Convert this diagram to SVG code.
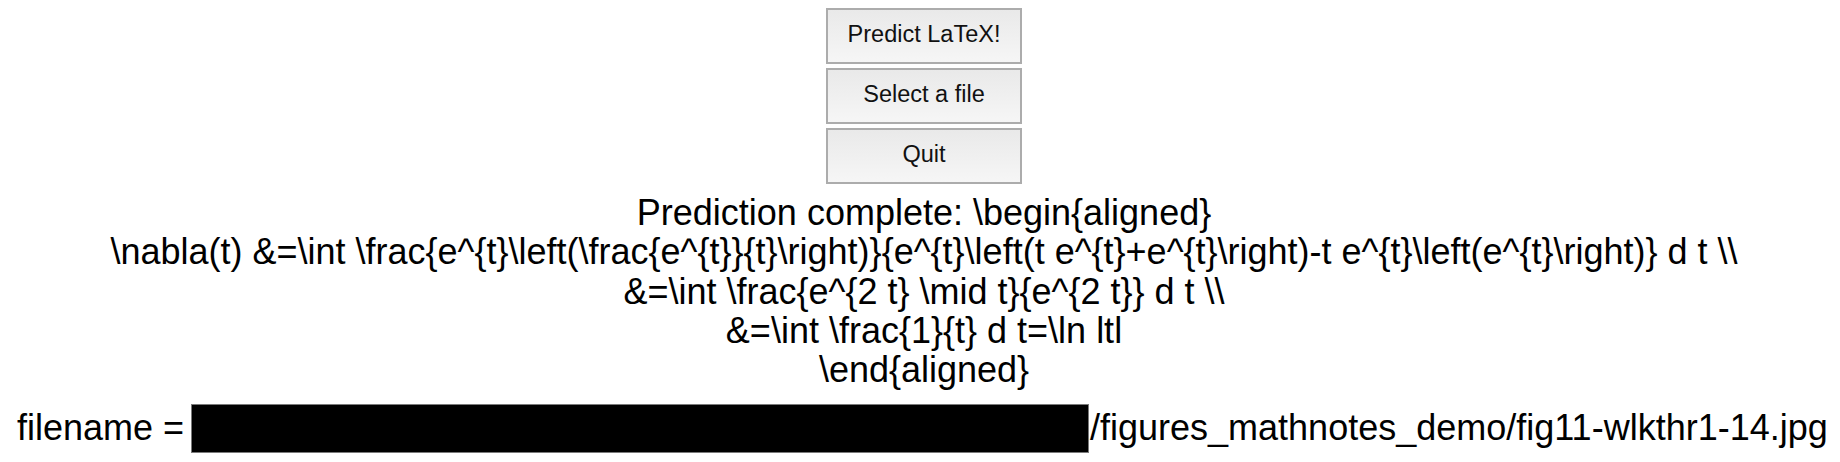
<svg xmlns="http://www.w3.org/2000/svg" width="1840" height="462" viewBox="0 0 1840 462">
  <style>
    .btn { fill: url(#btnGrad); stroke: #acacac; stroke-width: 2; }
    .btnText { font-family: "Liberation Sans", Arial, Helvetica, sans-serif; font-size: 23.5px; fill: #111111; text-anchor: middle; }
    .big { font-family: "Liberation Sans", Arial, Helvetica, sans-serif; font-size: 36px; fill: #000000; }
    .mid { text-anchor: middle; }
  </style>
  <defs>
    <linearGradient id="btnGrad" x1="0" y1="0" x2="0" y2="1">
      <stop offset="0" stop-color="#e9e9e9"/>
      <stop offset="1" stop-color="#f6f6f6"/>
    </linearGradient>
  </defs>
  <rect x="0" y="0" width="1840" height="462" fill="#ffffff"/>

  <g id="btn-predict">
    <rect class="btn" x="827" y="9" width="194" height="54"/>
    <text class="btnText" x="924" y="42">Predict LaTeX!</text>
  </g>
  <g id="btn-select">
    <rect class="btn" x="827" y="69" width="194" height="54"/>
    <text class="btnText" x="924" y="102">Select a file</text>
  </g>
  <g id="btn-quit">
    <rect class="btn" x="827" y="129" width="194" height="54"/>
    <text class="btnText" x="924" y="162">Quit</text>
  </g>

  <g id="prediction">
    <text class="big mid" x="924" y="225">Prediction complete: \begin{aligned}</text>
    <text class="big mid" x="924" y="264">\nabla(t) &amp;=\int \frac{e^{t}\left(\frac{e^{t}}{t}\right)}{e^{t}\left(t e^{t}+e^{t}\right)-t e^{t}\left(e^{t}\right)} d t \\</text>
    <text class="big mid" x="924" y="304">&amp;=\int \frac{e^{2 t} \mid t}{e^{2 t}} d t \\</text>
    <text class="big mid" x="924" y="343">&amp;=\int \frac{1}{t} d t=\ln ltl</text>
    <text class="big mid" x="924" y="382">\end{aligned}</text>
  </g>

  <g id="filename">
    <text class="big" x="17" y="440">filename =</text>
    <rect x="191.5" y="404.5" width="897" height="48" fill="#000000" stroke="#7a7a7a" stroke-width="1"/>
    <text class="big" x="1090" y="440">/figures_mathnotes_demo/fig11-wlkthr1-14.jpg</text>
  </g>
</svg>
